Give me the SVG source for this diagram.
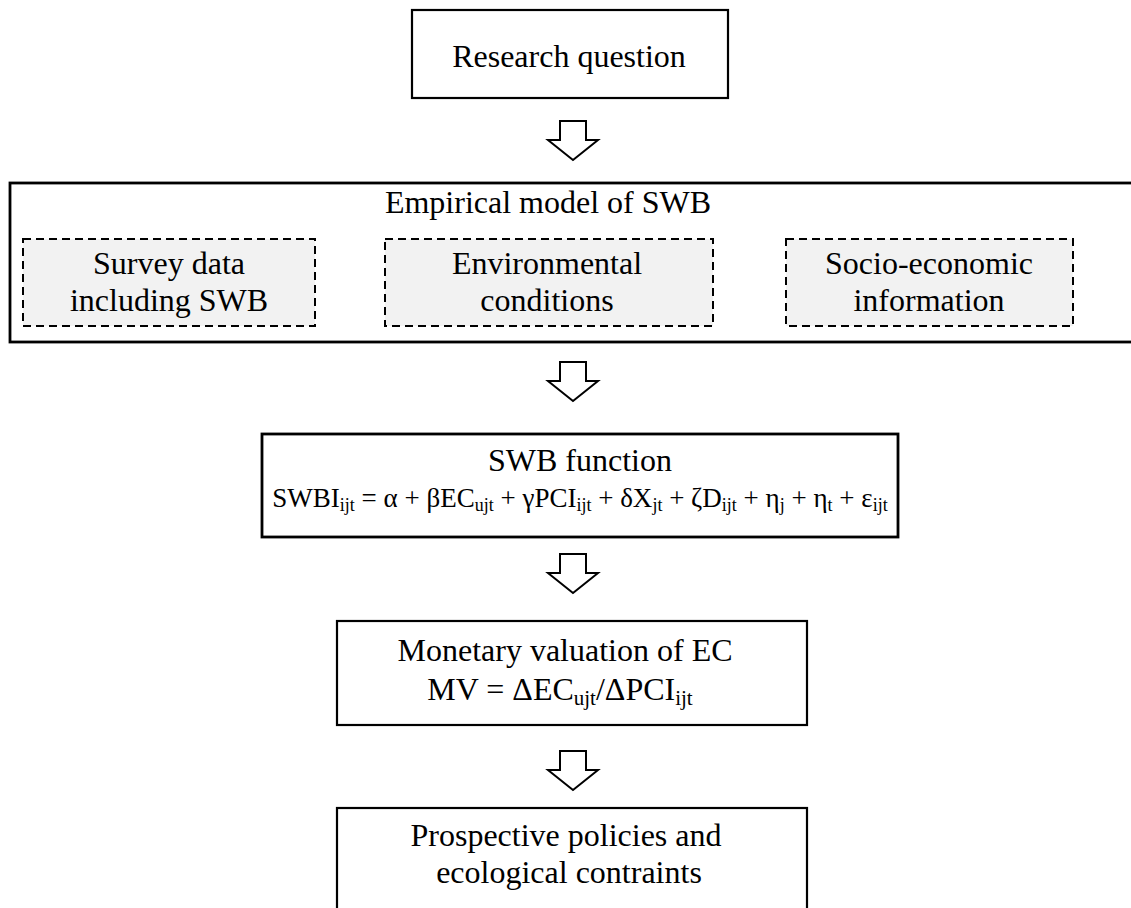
<svg xmlns="http://www.w3.org/2000/svg" width="1131" height="908" viewBox="0 0 1131 908">
<style>
text{font-family:"Liberation Serif","Times New Roman",serif;font-size:32px;fill:#000;text-anchor:middle}
.box{fill:#fff;stroke:#000;stroke-width:2.2}
.thick{fill:#fff;stroke:#000;stroke-width:2.8}
.dash{fill:#f2f2f2;stroke:#000;stroke-width:2;stroke-dasharray:8 5}
.arrow{fill:#fff;stroke:#000;stroke-width:2;stroke-linejoin:miter}
.sub{font-size:21px}
.eq{font-size:27px}
.eqsub{font-size:18px}
</style>
<defs>
<path id="blockArrow" d="M-13,0 H13 V19 H25 L0,39 L-25,19 H-13 Z"/>
</defs>
<rect width="1131" height="908" fill="#fff"/>
<g id="connectors">
<use href="#blockArrow" class="arrow" x="573" y="121"/>
<use href="#blockArrow" class="arrow" x="573" y="362"/>
<use href="#blockArrow" class="arrow" x="573" y="554"/>
<use href="#blockArrow" class="arrow" x="573" y="751"/>
</g>
<g id="research-question">
<rect class="box" x="412" y="10" width="316" height="88"/>
<text x="569" y="67">Research question</text>
</g>
<g id="empirical-model">
<rect class="thick" x="10" y="183" width="1130" height="159"/>
<text x="548" y="213">Empirical model of SWB</text>
</g>
<g id="survey-data">
<rect class="dash" x="23" y="239" width="292" height="87"/>
<text x="169" y="274">Survey data</text>
<text x="169" y="311">including SWB</text>
</g>
<g id="environmental-conditions">
<rect class="dash" x="385" y="239" width="328" height="87"/>
<text x="547" y="274">Environmental</text>
<text x="547" y="311">conditions</text>
</g>
<g id="socio-economic">
<rect class="dash" x="786" y="239" width="287" height="87"/>
<text x="929" y="274">Socio-economic</text>
<text x="929" y="311">information</text>
</g>
<g id="swb-function">
<rect class="thick" x="262" y="434" width="636" height="103"/>
<text x="580" y="471">SWB function</text>
<text class="eq" x="580" y="507">SWBI<tspan class="eqsub" dy="4">ijt</tspan><tspan dy="-4"> = α + βEC</tspan><tspan class="eqsub" dy="4">ujt</tspan><tspan dy="-4"> + γPCI</tspan><tspan class="eqsub" dy="4">ijt</tspan><tspan dy="-4"> + δX</tspan><tspan class="eqsub" dy="4">jt</tspan><tspan dy="-4"> + ζD</tspan><tspan class="eqsub" dy="4">ijt</tspan><tspan dy="-4"> + η</tspan><tspan class="eqsub" dy="4">j</tspan><tspan dy="-4"> + η</tspan><tspan class="eqsub" dy="4">t</tspan><tspan dy="-4"> + ε</tspan><tspan class="eqsub" dy="4">ijt</tspan></text>
</g>
<g id="monetary-valuation">
<rect class="box" x="337" y="621" width="470" height="104"/>
<text x="565" y="661">Monetary valuation of EC</text>
<text x="560" y="700">MV = ΔEC<tspan class="sub" dy="5">ujt</tspan><tspan dy="-5">/ΔPCI</tspan><tspan class="sub" dy="5">ijt</tspan></text>
</g>
<g id="prospective-policies">
<rect class="box" x="337" y="808" width="470" height="110"/>
<text x="566" y="846">Prospective policies and</text>
<text x="569" y="883">ecological contraints</text>
</g>
</svg>
